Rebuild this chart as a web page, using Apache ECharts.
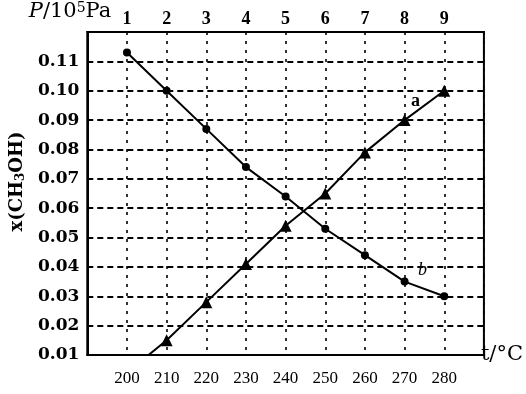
<!DOCTYPE html>
<html lang="zh">
<head>
    <meta charset="UTF-8">
    <title>x(CH3OH)</title>
    <script src="https://cdn.jsdelivr.net/npm/echarts/dist/echarts.min.js"></script>
    <style>
        html, body {margin: 0;padding: 0;background: #fff;}
        #main {width: 526px;height: 394px;}
    </style>
</head>
<body>
<div id="main"></div>
<script>
    // 压强 P/10^5Pa
    var pressure = [1, 2, 3, 4, 5, 6, 7, 8, 9];
    // 曲线 a（三角形）
    var aValues = [0.004, 0.015, 0.028, 0.041, 0.054, 0.065, 0.079, 0.090, 0.100];
    // 曲线 b（圆点）
    var bValues = [0.113, 0.100, 0.087, 0.074, 0.064, 0.053, 0.044, 0.035, 0.030];
    // 温度刻度 t/°C
    var tempTicks = [200, 210, 220, 230, 240, 250, 260, 270, 280];
    // 曲线名称标注的位置（第 8 个点）
    var tagIndex = 7;

    var serif = 'Liberation Serif';
    var dvSerif = 'DejaVu Serif';
    var myChart = echarts.init(document.getElementById('main'));

    function buildData(values, tag, offset) {
        var arr = [];
        for (var i = 0; i < values.length; i++) {
            var item = {value: [pressure[i], values[i]]};
            if (i === tagIndex) {
                item.label = {
                    show: true,
                    formatter: tag,
                    position: 'inside',
                    offset: offset,
                    color: '#000',
                    fontFamily: serif,
                    fontSize: 18,
                    fontWeight: tag === 'a' ? 'bold' : 'normal',
                    fontStyle: tag === 'b' ? 'italic' : 'normal'
                };
            }
            arr.push(item);
        }
        return arr;
    }

    var option = {
        animation: false,
        backgroundColor: '#fff',
        grid: {
            left: 86, right: 40, top: 32, bottom: 39,
            show: true, borderColor: '#000', borderWidth: 2
        },
        xAxis: [
            {
                type: 'value',
                position: 'top',
                min: 0, max: 10, interval: 1,
                name: '{i|P}/10{sup|5}Pa',
                nameLocation: 'start',
                nameGap: -24,
                nameTextStyle: {
                    color: '#000', fontFamily: dvSerif, fontSize: 21,
                    verticalAlign: 'bottom', padding: [0, 0, 9, 0],
                    rich: {
                        i: {fontStyle: 'italic', fontFamily: dvSerif, fontSize: 21, color: '#000'},
                        sup: {fontSize: 14, fontFamily: dvSerif, color: '#000', verticalAlign: 'top', padding: [0, 0, 8, 0]}
                    }
                },
                axisLine: {show: true, lineStyle: {color: '#000', width: 2}},
                axisTick: {show: false},
                axisLabel: {
                    margin: 4, color: '#000', fontFamily: serif, fontSize: 18, fontWeight: 'bold',
                    formatter: function (v) {
                        return pressure.indexOf(v) >= 0 ? String(v) : '';
                    }
                },
                splitLine: {show: true, lineStyle: {color: '#000', width: 1.6, type: [3, 6]}}
            },
            {
                type: 'value',
                position: 'bottom',
                min: 190, max: 290, interval: 10,
                name: 't/°C',
                nameLocation: 'end',
                nameGap: -3,
                nameTextStyle: {color: '#000', fontFamily: dvSerif, fontSize: 21, padding: [14, 0, 0, 0]},
                axisLine: {show: true, lineStyle: {color: '#000', width: 2}},
                axisTick: {show: false},
                axisLabel: {
                    margin: 15, color: '#000', fontFamily: serif, fontSize: 17,
                    formatter: function (v) {
                        return tempTicks.indexOf(v) >= 0 ? String(v) : '';
                    }
                },
                splitLine: {show: false}
            }
        ],
        yAxis: {
            type: 'value',
            min: 0.01, max: 0.12, interval: 0.01,
            name: 'x(CH{sub|3}OH)',
            nameLocation: 'middle',
            nameGap: 52,
            nameTextStyle: {
                color: '#000', fontFamily: dvSerif, fontSize: 18, fontWeight: 'bold',
                padding: [0, 0, 0, 24],
                rich: {
                    sub: {fontSize: 12, fontFamily: dvSerif, fontWeight: 'bold', color: '#000', verticalAlign: 'bottom', padding: [8, 0, 0, 0]}
                }
            },
            axisLine: {show: true, lineStyle: {color: '#000', width: 2}},
            axisTick: {show: false},
            axisLabel: {
                margin: 8, color: '#000', fontFamily: dvSerif, fontSize: 17, fontWeight: 'bold',
                formatter: function (v) {
                    return v > 0.115 ? '' : v.toFixed(2);
                }
            },
            splitLine: {show: true, lineStyle: {color: '#000', width: 2, type: [6, 4]}}
        },
        series: [
            {
                name: 'a',
                type: 'line',
                xAxisIndex: 0,
                data: buildData(aValues, 'a', [11, -19]),
                symbol: 'triangle',
                symbolSize: 12,
                clip: true,
                lineStyle: {color: '#000', width: 2},
                itemStyle: {color: '#000'}
            },
            {
                name: 'b',
                type: 'line',
                xAxisIndex: 0,
                data: buildData(bValues, 'b', [18, -11]),
                symbol: 'circle',
                symbolSize: 8,
                clip: true,
                lineStyle: {color: '#000', width: 2},
                itemStyle: {color: '#000'}
            }
        ]
    };
    myChart.setOption(option);
</script>
</body>
</html>
